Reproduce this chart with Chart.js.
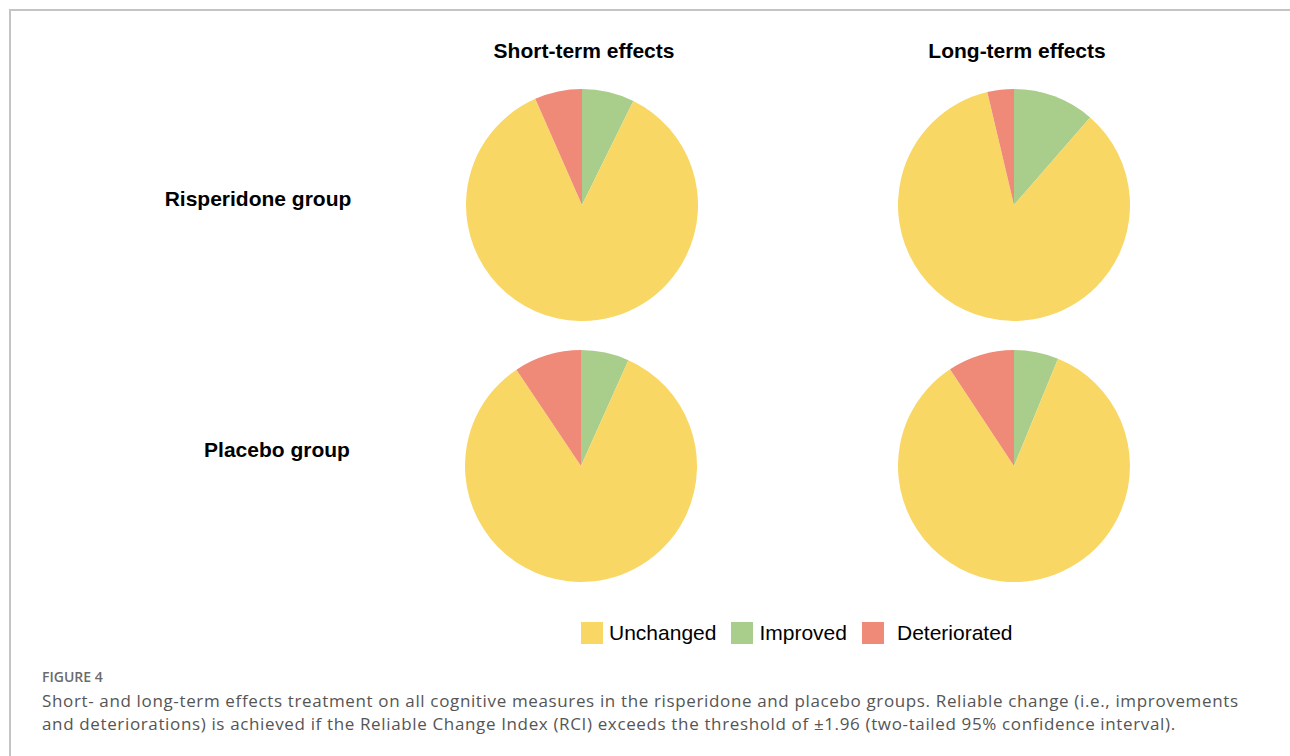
<!DOCTYPE html>
<html>
<head>
<meta charset="utf-8">
<script src="https://cdn.jsdelivr.net/npm/chart.js@4"></script>
<style>
    html, body { margin: 0; padding: 0; background: #fff; }
    body { width: 1290px; height: 756px; position: relative; overflow: hidden; font-family: "Liberation Sans", Arial, sans-serif; }
    .frame { position: absolute; left: 9px; top: 9px; width: 1290px; height: 760px; border-top: 2px solid #c4c4c4; border-left: 2px solid #c4c4c4; }
    .pie { position: absolute; width: 232px; height: 232px; }
    .title { position: absolute; font-weight: bold; font-size: 21px; color: #000; white-space: nowrap; transform: translate(-50%, -50%); }
    .legend { position: absolute; left: 581px; top: 621px; display: flex; align-items: center; font-size: 21px; color: #000; }
    .legend span.box { display: inline-block; width: 22px; height: 22px; }
    .legend span.lbl { margin-left: 6px; margin-right: 15px; }
    .fig { position: absolute; left: 42px; top: 667px; font-family: "Open Sans", sans-serif; font-size: 14px; font-weight: 600; color: #6b6b6b; }
    .cap { position: absolute; left: 42px; top: 689px; font-family: "Open Sans", sans-serif; font-size: 17px; line-height: 23px; letter-spacing: 0.64px; color: #555; white-space: nowrap; }
</style>
</head>
<body>
<div class="frame"></div>

<div class="title" style="left:584px; top:51px;">Short-term effects</div>
<div class="title" style="left:1017px; top:51px;">Long-term effects</div>
<div class="title" style="left:258px; top:199px;">Risperidone group</div>
<div class="title" style="left:277px; top:450px;">Placebo group</div>

<canvas id="pieRispShort" class="pie" width="232" height="232" style="left:466px; top:89px;"></canvas>
<canvas id="pieRispLong" class="pie" width="232" height="232" style="left:898px; top:89px;"></canvas>
<canvas id="piePlacShort" class="pie" width="232" height="232" style="left:465px; top:350px;"></canvas>
<canvas id="piePlacLong" class="pie" width="232" height="232" style="left:898px; top:350px;"></canvas>

<div class="legend" id="legend"></div>

<div class="fig">FIGURE 4</div>
<div class="cap">Short- and long-term effects treatment on all cognitive measures in the risperidone and placebo groups. Reliable change (i.e., improvements<br>and deteriorations) is achieved if the Reliable Change Index (RCI) exceeds the threshold of ±1.96 (two-tailed 95% confidence interval).</div>

<script>
// slice order clockwise from 12 o'clock
const categories = ['Improved', 'Unchanged', 'Deteriorated'];
const sliceColors = ['#A9CD8B', '#F9D765', '#F08A78'];

// percentages
const risperidoneShort = [7.3, 86.1, 6.6];
const risperidoneLong = [11.4, 84.9, 3.7];
const placeboShort = [6.7, 83.9, 9.4];
const placeboLong = [6.2, 84.5, 9.3];

const legendOrder = ['Unchanged', 'Improved', 'Deteriorated'];

function makePie(id, values) {
    const ctx = document.getElementById(id).getContext('2d');
    return new Chart(ctx, {
        type: 'pie',
        data: {
            labels: categories,
            datasets: [{
                data: values,
                backgroundColor: sliceColors,
                borderWidth: 0
            }]
        },
        options: {
            responsive: false,
            animation: false,
            devicePixelRatio: 1,
            layout: { padding: 0 },
            plugins: {
                legend: { display: false },
                tooltip: { enabled: false }
            }
        }
    });
}

makePie('pieRispShort', risperidoneShort);
makePie('pieRispLong', risperidoneLong);
makePie('piePlacShort', placeboShort);
makePie('piePlacLong', placeboLong);

const legend = document.getElementById('legend');
legendOrder.forEach((name, i) => {
    const box = document.createElement('span');
    box.className = 'box';
    box.style.background = sliceColors[categories.indexOf(name)];
    const lbl = document.createElement('span');
    lbl.className = 'lbl';
    lbl.textContent = name;
    // the last label sits a little further from its box
    if (i == legendOrder.length - 1) lbl.style.marginLeft = '13px';
    legend.appendChild(box);
    legend.appendChild(lbl);
});
</script>
</body>
</html>
